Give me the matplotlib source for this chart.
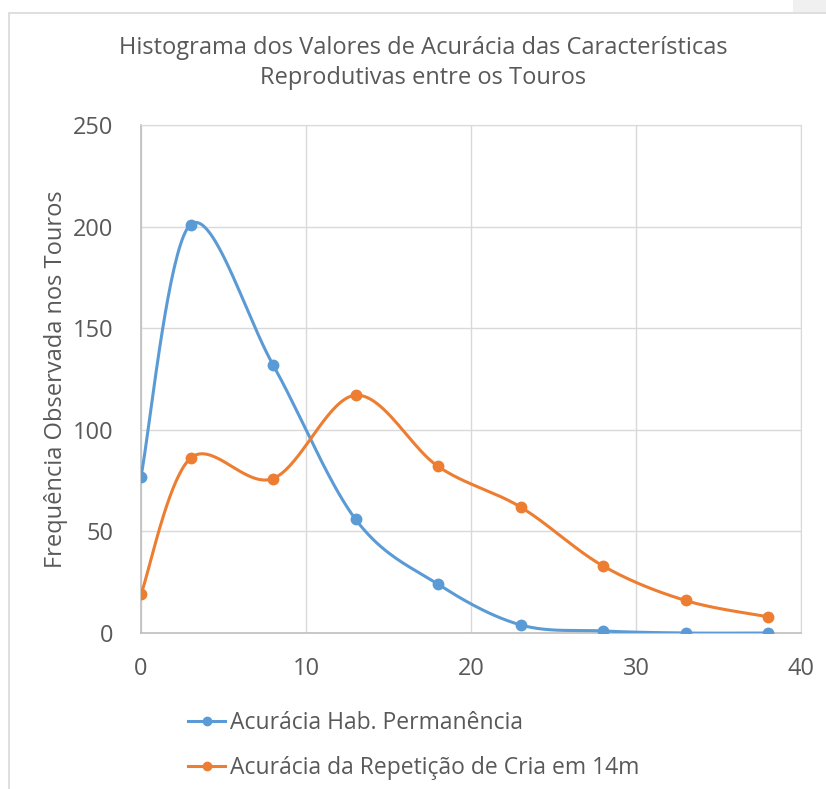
import numpy as np
import matplotlib
matplotlib.use("Agg")
import matplotlib.pyplot as plt
from matplotlib.lines import Line2D
from matplotlib.patches import Rectangle

plt.rcParams['font.family'] = ['Open Sans', 'DejaVu Sans']

# dados
acuracia = [0, 3, 8, 13, 18, 23, 28, 33, 38]
hab_permanencia = [77, 201, 132, 56, 24, 4, 1, 0, 0]
repeticao_cria = [19, 86, 76, 117, 82, 62, 33, 16, 8]

nomes = ["Acurácia Hab. Permanência", "Acurácia da Repetição de Cria em 14m"]
cores = ["#5b9bd5", "#ed7d31"]
texto_cor = "#595959"


def suaviza(x, y, n=40):
    # curva suave estilo Excel (Bezier com tangentes Catmull-Rom)
    x = np.asarray(x, float)
    y = np.asarray(y, float)
    px = np.concatenate([[x[0]], x, [x[-1]]])
    py = np.concatenate([[y[0]], y, [y[-1]]])
    xs, ys = [], []
    t = np.linspace(0, 1, n)
    for i in range(1, len(px) - 2):
        p0 = np.array([px[i], py[i]])
        p3 = np.array([px[i + 1], py[i + 1]])
        c1 = p0 + (np.array([px[i + 1], py[i + 1]]) - np.array([px[i - 1], py[i - 1]])) / 6
        c2 = p3 - (np.array([px[i + 2], py[i + 2]]) - np.array([px[i], py[i]])) / 6
        b = ((1 - t) ** 3)[:, None] * p0 + (3 * (1 - t) ** 2 * t)[:, None] * c1 \
            + (3 * (1 - t) * t ** 2)[:, None] * c2 + (t ** 3)[:, None] * p3
        xs.extend(b[:, 0])
        ys.extend(b[:, 1])
    return np.array(xs), np.array(ys)


fig = plt.figure(figsize=(8.26, 7.89), dpi=100)
W, H = 826, 789

# moldura do gráfico
fig.patches.append(Rectangle((8.5 / W, -0.01), 1.0, 1 - 12.5 / H + 0.01, transform=fig.transFigure,
                             fill=False, edgecolor="#d9d9d9", linewidth=1.2, zorder=0))
fig.patches.append(Rectangle((793 / W, 1 - 12 / H), 1.0, 12 / H, transform=fig.transFigure,
                             facecolor="#f0f0f0", edgecolor="none", zorder=0))

ax = fig.add_axes([141 / W, 1 - 633 / H, 660 / W, 508 / H])

for y, cor in zip([hab_permanencia, repeticao_cria], cores):
    sx, sy = suaviza(acuracia, y)
    ax.plot(sx, sy, color=cor, linewidth=2.2, solid_capstyle='round', zorder=3)
    ax.plot(acuracia, y, 'o', color=cor, markersize=7.5, zorder=4)

ax.set_xlim(0, 40)
ax.set_ylim(0, 250)
ax.set_xticks(range(0, 41, 10))
ax.set_yticks(range(0, 251, 50))
ax.grid(True, color="#d9d9d9", linewidth=1.0)
ax.set_axisbelow(True)
for s in ["top", "right"]:
    ax.spines[s].set_color("#d9d9d9")
for s in ["left", "bottom"]:
    ax.spines[s].set_color("#bfbfbf")
    ax.spines[s].set_linewidth(1.2)
ax.tick_params(axis='y', length=0, labelsize=17, colors=texto_cor, pad=20)
ax.tick_params(axis='x', length=0, labelsize=17, colors=texto_cor, pad=17)
ax.set_ylabel("Frequência Observada nos Touros", fontsize=17, color=texto_cor, labelpad=3)

fig.text(423 / W, 1 - 63 / H,
         "Histograma dos Valores de Acurácia das Características\nReprodutivas entre os Touros",
         ha="center", va="center", fontsize=17, color=texto_cor, linespacing=1.38)

handles = [Line2D([], [], color=c, linewidth=2.2, marker='o', markersize=6) for c in cores]
leg = fig.legend(handles, nomes, loc="upper left", bbox_to_anchor=(177 / W, 1 - 700 / H),
                 frameon=False, fontsize=16.5, labelcolor=texto_cor, handlelength=1.6,
                 handletextpad=0.2, labelspacing=0.9, borderpad=0)

fig.savefig("out.png", dpi=100)
